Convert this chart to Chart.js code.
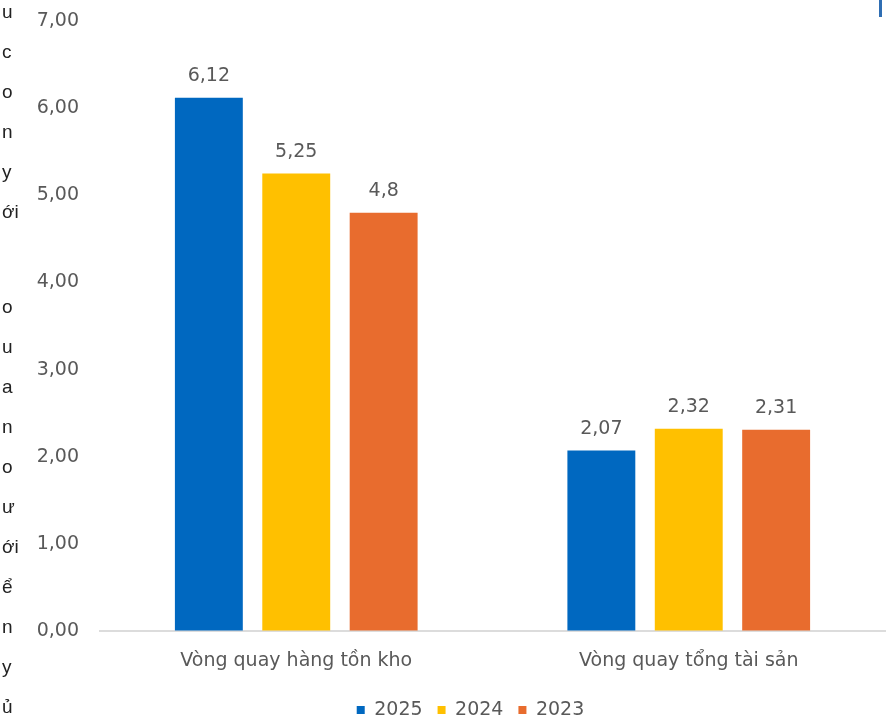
<!DOCTYPE html>
<html>
<head>
<meta charset="utf-8">
<script src="https://cdn.jsdelivr.net/npm/chart.js@4"></script>
<style>
    html, body { margin: 0; padding: 0; background: #fff; }
    #wrap { position: relative; width: 896px; height: 722px; overflow: hidden; }
    #ratioChart { position: absolute; left: 0; top: 0; }
    .sideText { position: absolute; left: 2px; font-family: "Liberation Sans", Arial, sans-serif; font-size: 19px; color: #222; line-height: 40px; }
    .sideText div { height: 40px; }
    #sideTop { top: -8px; }
    #sideBottom { top: 287px; }
    #topMark { position: absolute; left: 879px; top: 0; width: 3px; height: 17px; background: #2f6eb3; }
</style>
</head>
<body>
<div id="wrap">
    <canvas id="ratioChart" width="896" height="722"></canvas>
    <div class="sideText" id="sideTop"></div>
    <div class="sideText" id="sideBottom"></div>
    <div id="topMark"></div>
</div>
<script>
const categories = ["Vòng quay hàng tồn kho", "Vòng quay tổng tài sản"];
const seriesNames = ["2025", "2024", "2023"];
const values2025 = [6.12, 2.07];
const values2024 = [5.25, 2.32];
const values2023 = [4.8, 2.31];
const seriesColors = ["#0068c0", "#ffc000", "#e86c2e"];
// cut-off letters from the article column on the left
const sideLettersTop = ["u", "c", "o", "n", "y", "ới"];
const sideLettersBottom = ["o", "u", "a", "n", "o", "ư", "ới", "ể", "n", "y", "ủ"];

document.addEventListener("DOMContentLoaded", function () {
    function fillSide(id, letters) {
        const box = document.getElementById(id);
        letters.forEach(function (ch) {
            const d = document.createElement("div");
            d.textContent = ch;
            box.appendChild(d);
        });
    }
    fillSide("sideTop", sideLettersTop);
    fillSide("sideBottom", sideLettersBottom);

    const toComma = (v) => String(v).replace(".", ",");
    const fontFam = "'DejaVu Sans', sans-serif";

    // value labels above each bar
    const barLabels = {
        id: "barLabels",
        afterDatasetsDraw(chart) {
            const c = chart.ctx;
            c.save();
            c.font = "19px " + fontFam;
            c.fillStyle = "#595959";
            c.textAlign = "center";
            c.textBaseline = "bottom";
            chart.data.datasets.forEach((ds, i) => {
                chart.getDatasetMeta(i).data.forEach((bar, j) => {
                    c.fillText(toComma(ds.data[j]), bar.x, bar.y - 12);
                });
            });
            c.restore();
        }
    };

    // legend sits a bit right of the canvas centre in the original
    const legendShift = {
        id: "legendShift",
        afterLayout(chart) {
            chart.legend.left += 28;
            chart.legend.right += 28;
        }
    };

    const datasets = [values2025, values2024, values2023].map((vals, i) => ({
        label: seriesNames[i],
        data: vals,
        backgroundColor: seriesColors[i],
        categoryPercentage: 0.668,
        barPercentage: 0.777,
    }));

    new Chart(document.getElementById("ratioChart").getContext("2d"), {
        type: "bar",
        data: { labels: categories, datasets: datasets },
        plugins: [barLabels, legendShift],
        options: {
            responsive: false,
            animation: false,
            layout: { padding: { top: 21, right: 11, left: 0, bottom: -7.5 } },
            scales: {
                x: {
                    grid: { display: false },
                    border: { display: true, color: "#dcdcdc", width: 2 },
                    ticks: { color: "#595959", font: { family: fontFam, size: 19 }, padding: 11 },
                    afterFit: (s) => { s.height = 54.5; },
                },
                y: {
                    min: 0,
                    max: 7,
                    // invisible tick marks keep the labels away from the plot
                    grid: { display: true, drawOnChartArea: false, drawTicks: true, tickLength: 21, tickColor: "rgba(0,0,0,0)" },
                    border: { display: false },
                    ticks: {
                        stepSize: 1,
                        color: "#595959",
                        font: { family: fontFam, size: 19 },
                        padding: 0,
                        callback: (v) => v.toFixed(2).replace(".", ","),
                    },
                    afterFit: (s) => { s.width = 100; },
                },
            },
            plugins: {
                legend: {
                    position: "bottom",
                    labels: {
                        color: "#595959",
                        font: { family: fontFam, size: 19 },
                        boxWidth: 8,
                        boxHeight: 8,
                        padding: 15,
                    },
                },
                tooltip: { enabled: false },
            },
        },
    });
});
</script>
</body>
</html>
